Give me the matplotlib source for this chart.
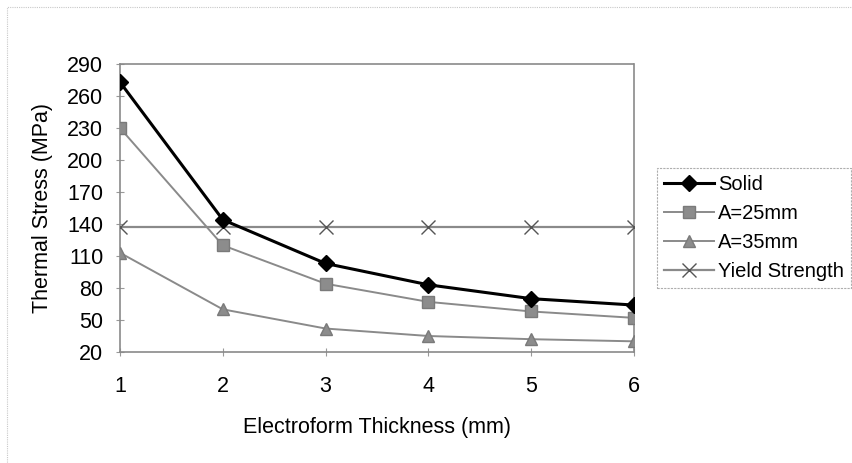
import matplotlib
matplotlib.use("Agg")
import matplotlib.pyplot as plt
from matplotlib.patches import Rectangle

plt.rcParams['font.family'] = ['Liberation Sans', 'DejaVu Sans']

# Electroform thickness (mm)
thickness = [1, 2, 3, 4, 5, 6]

# Thermal stress (MPa)
solid = [273, 144, 103, 83, 70, 64]
a25 = [230, 120, 84, 67, 58, 52]
a35 = [113, 60, 42, 35, 32, 30]
yield_strength = [137, 137, 137, 137, 137, 137]

y_ticks = [20, 50, 80, 110, 140, 170, 200, 230, 260, 290]
x_ticks = [1, 2, 3, 4, 5, 6]

FS = 15.5
W, H = 852, 463
fig = plt.figure(figsize=(W / 100, H / 100), dpi=100)
ax = fig.add_axes([120 / W, 1 - 352 / H, (634 - 120) / W, (352 - 64) / H])

fig.patches.append(Rectangle((7 / W, -0.01), 1.0, 1 - 7 / H + 0.01,
                             transform=fig.transFigure, fill=False,
                             edgecolor='#c8c8c8', linewidth=0.8,
                             linestyle=(0, (1, 1))))

ax.plot(thickness, solid, color='black', linewidth=2.2, marker='D',
        markersize=8, markerfacecolor='black', markeredgecolor='black',
        label='Solid', zorder=5)
ax.plot(thickness, a25, color='#8a8a8a', linewidth=1.4, marker='s',
        markersize=8, markerfacecolor='#8c8c8c', markeredgecolor='#7a7a7a',
        label='A=25mm', zorder=4)
ax.plot(thickness, a35, color='#8a8a8a', linewidth=1.4, marker='^',
        markersize=9, markerfacecolor='#8c8c8c', markeredgecolor='#7a7a7a',
        label='A=35mm', zorder=4)
ax.plot(thickness, yield_strength, color='#8a8a8a', linewidth=1.6, marker='x',
        markersize=10, markeredgecolor='#555555', markeredgewidth=1.0,
        label='Yield Strength', zorder=3)

ax.set_xlim(1, 6)
ax.set_ylim(20, 290)
ax.set_xticks(x_ticks)
ax.set_yticks(y_ticks)
ax.tick_params(axis='both', labelsize=FS, colors='#999999', labelcolor='black',
               direction='inout', length=6, width=0.8)
ax.tick_params(axis='x', pad=14)
ax.tick_params(axis='y', pad=9)

for spine in ax.spines.values():
    spine.set_color('#8a8a8a')
    spine.set_linewidth(1.2)
    spine.set_linestyle((0, (2, 1)))

ax.set_xlabel('Electroform Thickness (mm)', fontsize=FS, labelpad=15)
ax.set_ylabel('Thermal Stress (MPa)', fontsize=FS, labelpad=10)

leg = fig.legend(loc='upper left', bbox_to_anchor=(657 / W, 1 - 168 / H),
                 fontsize=14.5, frameon=True, fancybox=False, handlelength=2.5,
                 handletextpad=0.2, labelspacing=0.5, borderpad=0.35,
                 borderaxespad=0.0)
leg.get_frame().set_edgecolor('#9a9a9a')
leg.get_frame().set_linewidth(0.8)
leg.get_frame().set_linestyle((0, (2, 1)))

fig.savefig('out.png', dpi=100)
